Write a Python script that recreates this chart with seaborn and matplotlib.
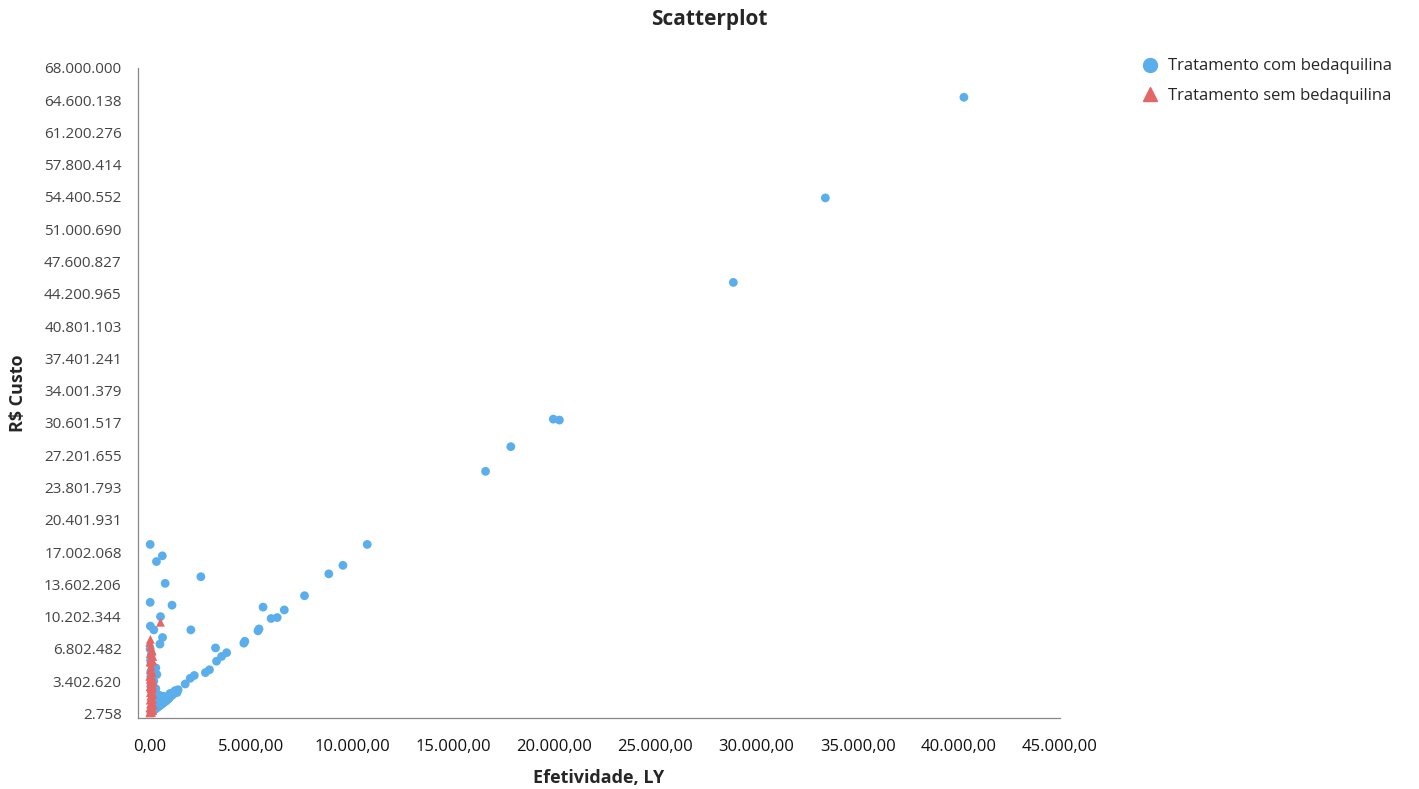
import numpy as np
import pandas as pd
import matplotlib
matplotlib.use("Agg")
import matplotlib.pyplot as plt
import seaborn as sns

# Tratamento com bedaquilina: (efetividade LY, custo em milhoes R$)
com_x = [40250, 33400, 28850, 19950, 20250, 17850, 16600, 10750, 9550, 8850,
         7650, 6650, 6300, 6000, 5600, 5400, 5350, 4700, 4650, 3800,
         3550, 3300, 3250, 2950, 2750, 2200, 2000, 1750, 1250, 1150,
         1000, 1050, 2525, 2030,
         20, 620, 330, 760, 20, 1100, 530, 30, 200, 630, 500, 300, 60,
         50, 100, 150, 200, 250, 300, 350, 400, 450, 500, 550, 600, 650,
         700, 800, 850, 900, 950, 100, 150, 200, 250, 300, 120, 80, 60,
         100, 150, 50, 200, 300, 400, 500, 600, 350, 50, 120, 40, 80, 20,
         400, 700, 1100, 1200, 1300, 1400, 1350]
com_y = [64.9, 54.3, 45.4, 31.0, 30.9, 28.1, 25.5, 17.8, 15.6, 14.7,
         12.4, 10.9, 10.1, 10.0, 11.2, 8.9, 8.7, 7.6, 7.4, 6.4,
         6.0, 5.5, 6.9, 4.6, 4.3, 4.0, 3.7, 3.1, 2.4, 2.2,
         2.1, 1.9, 14.4, 8.8,
         17.8, 16.6, 16.0, 13.7, 11.7, 11.4, 10.2, 9.2, 8.8, 8.0, 7.3, 4.8, 5.2,
         0.1, 0.2, 0.3, 0.35, 0.45, 0.5, 0.6, 0.7, 0.75, 0.85, 0.9, 1.0, 1.1,
         1.15, 1.3, 1.45, 1.5, 1.6, 0.6, 1.0, 1.3, 1.7, 2.1, 1.8, 2.4, 2.9,
         3.2, 3.6, 3.9, 3.4, 2.6, 1.4, 1.9, 1.6, 4.1, 4.4, 5.0, 5.6, 6.2, 6.8,
         1.1, 1.8, 1.9, 2.1, 2.3, 2.5, 2.2]

# Tratamento sem bedaquilina
sem_x = [0, 30, 60, 10, 80, 40, 100, 20, 70, 50, 110, 30, 90, 60, 10, 120,
         40, 80, 20, 100, 50, 130, 30, 70, 10, 60, 150, 20, 120, 40, 0, 30,
         530, 150, 130, 140, 0, 90, 170, 160, 180, 150]
sem_y = [0.05, 0.2, 0.4, 0.6, 0.8, 1.0, 1.2, 1.4, 1.6, 1.8, 2.0, 2.2, 2.4, 2.6,
         2.8, 3.0, 3.2, 3.4, 3.6, 3.8, 4.0, 4.3, 4.6, 5.0, 5.4, 5.8, 6.0, 6.3,
         6.6, 7.0, 7.5, 7.8, 9.6, 0.3, 1.5, 2.7, 3.9, 0.1, 0.9, 2.0, 3.3, 5.5]

y_ticks = [2758 + k * 3399862.1 for k in range(21)]
y_labels = ["2.758", "3.402.620", "6.802.482", "10.202.344", "13.602.206",
            "17.002.068", "20.401.931", "23.801.793", "27.201.655", "30.601.517",
            "34.001.379", "37.401.241", "40.801.103", "44.200.965", "47.600.827",
            "51.000.690", "54.400.552", "57.800.414", "61.200.276", "64.600.138",
            "68.000.000"]
x_ticks = list(range(0, 45001, 5000))
x_labels = ["0,00", "5.000,00", "10.000,00", "15.000,00", "20.000,00",
            "25.000,00", "30.000,00", "35.000,00", "40.000,00", "45.000,00"]

COM = "Tratamento com bedaquilina"
SEM = "Tratamento sem bedaquilina"

df = pd.concat([
    pd.DataFrame({"x": com_x, "y": np.array(com_y) * 1e6, "grupo": COM}),
    pd.DataFrame({"x": sem_x, "y": np.array(sem_y) * 1e6, "grupo": SEM}),
], ignore_index=True)

sns.set_style("white")
plt.rcParams["font.family"] = ["Open Sans", "DejaVu Sans"]

fig = plt.figure(figsize=(14.19, 7.89), dpi=100)
ax = fig.add_axes([0.097, 0.09, 0.65, 0.824])

sns.scatterplot(data=df, x="x", y="y", hue="grupo", style="grupo",
                palette={COM: "#5aaeec", SEM: "#e46666"},
                markers={COM: "o", SEM: "^"}, s=40, linewidth=0,
                ax=ax, legend=False)

ax.set_xlim(-600, 45000)
ax.set_ylim(-480000, 68000000)
ax.set_xticks(x_ticks)
ax.set_xticklabels(x_labels, fontsize=12, color="#111111")
ax.set_yticks(y_ticks)
ax.set_yticklabels(y_labels, fontsize=11, color="#444444")
ax.tick_params(axis="y", direction="out", length=8, color="#999999", width=0.8)
ax.tick_params(axis="x", direction="in", length=8, color="#999999", width=0.8, pad=15)

for side in ["top", "right"]:
    ax.spines[side].set_visible(False)
for side in ["left", "bottom"]:
    ax.spines[side].set_color("#888888")
    ax.spines[side].set_linewidth(0.9)

ax.set_xlabel("Efetividade, LY", fontsize=13, fontweight="bold", labelpad=10)
ax.set_ylabel("R$ Custo", fontsize=13, fontweight="bold", labelpad=12)
fig.text(0.5, 0.975, "Scatterplot", ha="center", va="center",
         fontsize=15, fontweight="bold")

handles = [
    plt.Line2D([], [], marker="o", linestyle="", color="#5aaeec", markersize=10),
    plt.Line2D([], [], marker="^", linestyle="", color="#e46666", markersize=10),
]
fig.legend(handles, [COM, SEM], loc="upper left", bbox_to_anchor=(0.794, 0.945),
           frameon=False, fontsize=12, handletextpad=0.6, labelspacing=0.8,
           handlelength=1.0)

fig.savefig("out.png", dpi=100)
